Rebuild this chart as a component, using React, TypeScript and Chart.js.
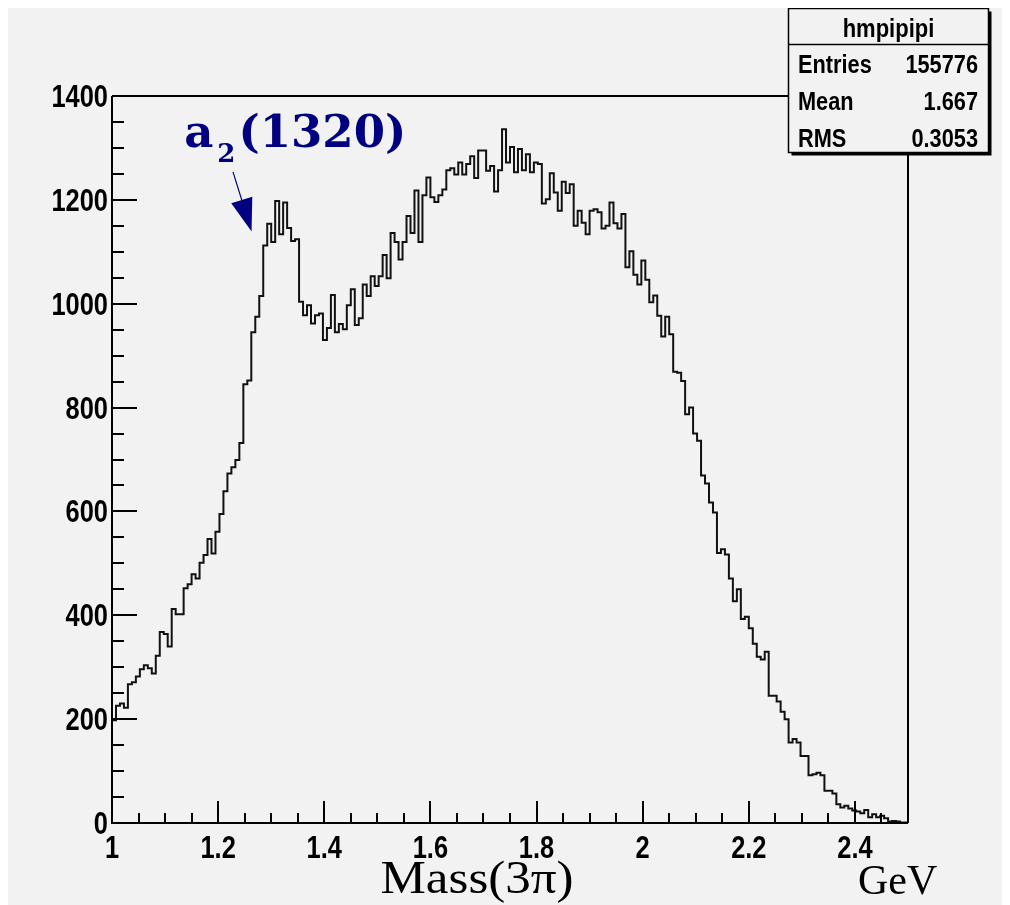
import React, { useEffect, useRef } from "react";
import { Chart, registerables } from "chart.js";

Chart.register(...registerables);

// ---- data ----
const BIN_LOW = 1.0;
const BIN_HIGH = 2.5;
const counts = [
  198, 226, 230, 222, 267, 271, 282, 296, 304, 298,
  288, 322, 368, 364, 340, 412, 402, 402, 452, 460,
  479, 471, 501, 516, 547, 519, 561, 595, 639, 673,
  685, 699, 732, 845, 852, 945, 975, 1015, 1112, 1154,
  1119, 1198, 1134, 1195, 1146, 1121, 1124, 1004, 978, 997,
  962, 978, 981, 930, 953, 1017, 945, 961, 951, 997,
  1028, 959, 972, 1037, 1015, 1053, 1034, 1053, 1094, 1049,
  1136, 1119, 1085, 1119, 1169, 1136, 1218, 1119, 1209, 1243,
  1205, 1196, 1209, 1220, 1257, 1261, 1249, 1272, 1249, 1269,
  1284, 1242, 1295, 1295, 1256, 1265, 1216, 1257, 1336, 1272,
  1302, 1253, 1298, 1257, 1288, 1253, 1272, 1269, 1193, 1201,
  1251, 1214, 1179, 1235, 1213, 1230, 1150, 1179, 1156, 1134,
  1179, 1182, 1176, 1145, 1150, 1195, 1155, 1145, 1173, 1070,
  1101, 1056, 1037, 1083, 1046, 1003, 1016, 977, 937, 975,
  941, 869, 867, 851, 787, 800, 750, 736, 669, 654,
  617, 598, 520, 527, 517, 471, 427, 450, 393, 397,
  375, 345, 320, 315, 330, 245, 245, 234, 214, 200,
  155, 162, 155, 129, 129, 92, 94, 97, 92, 62,
  62, 57, 36, 30, 33, 28, 24, 22, 19, 25,
  11, 17, 11, 14, 9, 3, 4, 3, 1, 1,
];
const xTickValues = [1, 1.2, 1.4, 1.6, 1.8, 2, 2.2, 2.4];
const xTickLabels = ["1", "1.2", "1.4", "1.6", "1.8", "2", "2.2", "2.4"];
const yTickValues = [0, 200, 400, 600, 800, 1000, 1200, 1400];
const yTickLabels = ["0", "200", "400", "600", "800", "1000", "1200", "1400"];
const Y_MAX = 1400;
const statsTitle = "hmpipipi";
const statLabels = ["Entries", "Mean", "RMS"];
const statValues = ["155776", "1.667", "0.3053"];
const xTitle = "Mass(3\u03c0)";
const xUnit = "GeV";
const annMain = "a";
const annSub = "2";
const annRest = "(1320)";
const annTextAt = { x: 1.136, y: 1302 };
const arrowFrom = { x: 1.228, y: 1254 };
const arrowTo = { x: 1.263, y: 1139 };

// ---- style ----
const BG = "rgb(242,242,242)";
const NAVY = "#000080";
const SANS = "'Liberation Sans', Arial, sans-serif";
const SERIF = "'Liberation Serif', 'Times New Roman', serif";
const W = 994;
const H = 897;

function narrowText(
  ctx: CanvasRenderingContext2D,
  text: string,
  x: number,
  y: number,
  align: CanvasTextAlign,
  font: string,
  sx: number
) {
  ctx.save();
  ctx.font = font;
  ctx.textAlign = align;
  ctx.textBaseline = "alphabetic";
  ctx.translate(x, y);
  ctx.scale(sx, 1);
  ctx.fillText(text, 0, 0);
  ctx.restore();
}

const rootPlugin = {
  id: "rootDeco",
  afterDatasetsDraw(chart: any) {
    const { ctx, chartArea: a, scales } = chart;
    const xs = scales.x;
    const ys = scales.y;
    ctx.save();
    ctx.strokeStyle = "#000";
    ctx.lineWidth = 2;
    ctx.beginPath();
    ctx.moveTo(a.left, a.top);
    ctx.lineTo(a.right, a.top);
    ctx.lineTo(a.right, a.bottom);
    ctx.moveTo(a.left, a.top);
    ctx.lineTo(a.left, a.bottom);
    ctx.lineTo(a.right, a.bottom);
    ctx.stroke();
    // y ticks (major 200, minor 50)
    ctx.beginPath();
    for (let k = 0; k <= 28; k++) {
      const v = k * 50;
      const y = Math.round(ys.getPixelForValue(v));
      const len = k % 4 === 0 ? 25 : 12;
      ctx.moveTo(a.left, y);
      ctx.lineTo(a.left + len, y);
    }
    // x ticks (major 0.2, minor 0.05)
    for (let k = 0; k <= 30; k++) {
      const v = BIN_LOW + k * 0.05;
      const x = Math.round(xs.getPixelForValue(v));
      const len = k % 4 === 0 ? 22 : 10;
      ctx.moveTo(x, a.bottom);
      ctx.lineTo(x, a.bottom - len);
    }
    ctx.stroke();
    // tick labels (narrow bold)
    ctx.fillStyle = "#000";
    const tf = `bold 31px ${SANS}`;
    xTickValues.forEach((v, i) => {
      narrowText(ctx, xTickLabels[i], xs.getPixelForValue(v), a.bottom + 35, "center", tf, 0.82);
    });
    yTickValues.forEach((v, i) => {
      narrowText(ctx, yTickLabels[i], a.left - 4, ys.getPixelForValue(v) + 11, "right", tf, 0.82);
    });
    ctx.restore();
  },
  afterDraw(chart: any) {
    const { ctx, scales } = chart;
    const xs = scales.x;
    const ys = scales.y;
    ctx.save();
    // stats box
    const bx = 780.5, by = 0.5, bw = 200, bh = 144;
    ctx.fillStyle = "#000";
    ctx.fillRect(bx + 3, by + 3, bw, bh);
    ctx.fillStyle = BG;
    ctx.fillRect(bx, by, bw, bh);
    ctx.strokeStyle = "#000";
    ctx.lineWidth = 1.5;
    ctx.strokeRect(bx, by, bw, bh);
    ctx.beginPath();
    ctx.moveTo(bx, 36.5);
    ctx.lineTo(bx + bw, 36.5);
    ctx.stroke();
    ctx.fillStyle = "#000";
    const sf = `bold 25px ${SANS}`;
    narrowText(ctx, statsTitle, bx + bw / 2, 29, "center", sf, 0.88);
    const rows = [65, 102, 139];
    statLabels.forEach((lab, i) => {
      narrowText(ctx, lab, 790, rows[i], "left", sf, 0.87);
      narrowText(ctx, statValues[i], 970, rows[i], "right", sf, 0.87);
    });
    // axis title and unit
    ctx.font = `47px ${SERIF}`;
    const tw = ctx.measureText(xTitle).width;
    narrowText(ctx, xTitle, 469, 885, "center", `47px ${SERIF}`, 193 / tw);
    ctx.font = `42px ${SERIF}`;
    ctx.textAlign = "left";
    ctx.textBaseline = "alphabetic";
    ctx.fillText(xUnit, 850, 886);
    // annotation
    ctx.fillStyle = NAVY;
    ctx.strokeStyle = NAVY;
    const tx = xs.getPixelForValue(annTextAt.x);
    const ty = ys.getPixelForValue(annTextAt.y);
    ctx.font = "bold 45px 'DejaVu Serif', serif";
    ctx.fillText(annMain, tx, ty);
    let cx = tx + ctx.measureText(annMain).width + 4;
    ctx.font = "bold 26px 'DejaVu Serif', serif";
    ctx.fillText(annSub, cx, ty + 15);
    cx += ctx.measureText(annSub).width + 3;
    ctx.font = "bold 45px 'DejaVu Serif', serif";
    ctx.fillText(annRest, cx, ty);
    // arrow
    const p0 = { x: xs.getPixelForValue(arrowFrom.x), y: ys.getPixelForValue(arrowFrom.y) };
    const p1 = { x: xs.getPixelForValue(arrowTo.x), y: ys.getPixelForValue(arrowTo.y) };
    const dx = p1.x - p0.x, dy = p1.y - p0.y;
    const L = Math.hypot(dx, dy);
    const ux = dx / L, uy = dy / L;
    const head = 33, half = 11;
    const bcx = p1.x - ux * head, bcy = p1.y - uy * head;
    ctx.lineWidth = 1.2;
    ctx.beginPath();
    ctx.moveTo(p0.x, p0.y);
    ctx.lineTo(bcx, bcy);
    ctx.stroke();
    ctx.beginPath();
    ctx.moveTo(p1.x, p1.y);
    ctx.lineTo(bcx - uy * half, bcy + ux * half);
    ctx.lineTo(bcx + uy * half, bcy - ux * half);
    ctx.closePath();
    ctx.fill();
    ctx.restore();
  },
};

export default function App() {
  const ref = useRef<HTMLCanvasElement | null>(null);
  useEffect(() => {
    if (!ref.current) return;
    const w = (BIN_HIGH - BIN_LOW) / counts.length;
    const pts = counts.map((c, i) => ({ x: BIN_LOW + i * w, y: c }));
    pts.push({ x: BIN_HIGH, y: counts[counts.length - 1] });
    const chart = new Chart(ref.current, {
      type: "line",
      data: {
        datasets: [
          {
            data: pts,
            stepped: true,
            borderColor: "#111",
            borderWidth: 2,
            pointRadius: 0,
            fill: false,
          },
        ],
      },
      options: {
        animation: false,
        responsive: false,
        maintainAspectRatio: false,
        layout: { padding: { top: 88, right: 94, left: 0, bottom: 0 } },
        plugins: { legend: { display: false }, tooltip: { enabled: false } },
        scales: {
          x: {
            type: "linear",
            min: BIN_LOW,
            max: BIN_HIGH,
            grid: { display: false },
            border: { display: false },
            afterBuildTicks: (s: any) => {
              s.ticks = xTickValues.map((v) => ({ value: v }));
            },
            afterFit: (s: any) => {
              s.height = 82;
            },
            ticks: { display: false },
          },
          y: {
            min: 0,
            max: Y_MAX,
            grid: { display: false },
            border: { display: false },
            afterBuildTicks: (s: any) => {
              s.ticks = yTickValues.map((v) => ({ value: v }));
            },
            afterFit: (s: any) => {
              s.width = 104;
            },
            ticks: { display: false },
          },
        },
      },
      plugins: [rootPlugin],
    });
    return () => chart.destroy();
  }, []);
  return (
    <div style={{ width: W, height: H, background: BG }}>
      <canvas ref={ref} width={W} height={H} style={{ display: "block", width: W, height: H }} />
    </div>
  );
}
